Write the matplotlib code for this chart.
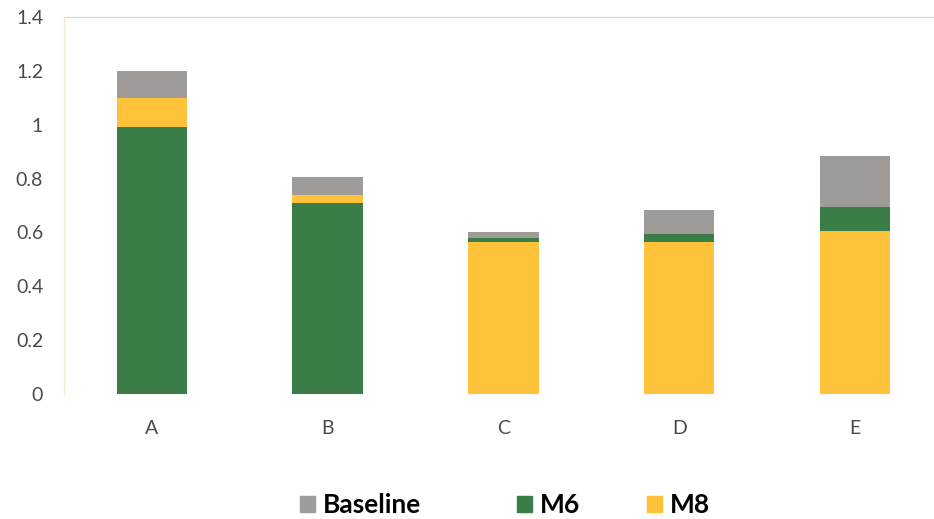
import matplotlib.pyplot as plt
import numpy as np
from matplotlib.patches import Patch

# values per scenario (bars overlap, drawn from 0)
categories = ["A", "B", "C", "D", "E"]
baseline = [1.20, 0.806, 0.60, 0.683, 0.884]
m6 = [0.99, 0.71, 0.58, 0.594, 0.694]
m8 = [1.10, 0.74, 0.565, 0.565, 0.605]

series_names = ["Baseline", "M6", "M8"]
colors = {"Baseline": "#9e9b99", "M6": "#3a7d46", "M8": "#fec33a"}

plt.rcParams['font.family'] = ['Lato', 'DejaVu Sans']

fig = plt.figure(figsize=(9.34, 5.19), dpi=100)
ax = fig.add_axes([0.0685, 0.2408, 0.941, 0.7265])

x = np.arange(len(categories))
values = {"Baseline": baseline, "M6": m6, "M8": m8}

# tallest bar in the back, shorter ones drawn on top
for i in range(len(categories)):
    order = sorted(series_names, key=lambda s: -values[s][i])
    for z, name in enumerate(order):
        ax.bar(x[i], values[name][i], width=0.4, color=colors[name],
               zorder=2 + z, linewidth=0)

ax.set_xlim(-0.5, 4.5)
ax.set_ylim(0, 1.4)
ax.set_yticks(np.arange(0, 1.41, 0.2))
ax.set_yticklabels(["0", "0.2", "0.4", "0.6", "0.8", "1", "1.2", "1.4"])
ax.set_xticks(x)
ax.set_xticklabels(categories)
ax.tick_params(axis='both', length=0, labelsize=14, labelcolor="#4a4a4a")
ax.tick_params(axis='y', pad=15)
ax.tick_params(axis='x', pad=19)

for side in ["right", "bottom"]:
    ax.spines[side].set_visible(False)
ax.spines["left"].set_color("#f2efc8")
ax.spines["left"].set_linewidth(1)
ax.spines["top"].set_color("#d9d9d9")
ax.spines["top"].set_linestyle((0, (2, 1)))
ax.spines["top"].set_linewidth(0.8)

# one legend entry per series, spaced like the original key
legend_x = [300, 517, 647]
for name, lx in zip(series_names, legend_x):
    leg = fig.legend(handles=[Patch(color=colors[name], label=name)],
                     loc="center left", bbox_to_anchor=(lx / 934, 0.027),
                     frameon=False, handlelength=0.55, handleheight=0.55,
                     handletextpad=0.3, borderpad=0, borderaxespad=0,
                     prop={"size": 19, "weight": "bold"})

fig.savefig("out.png", dpi=100)
